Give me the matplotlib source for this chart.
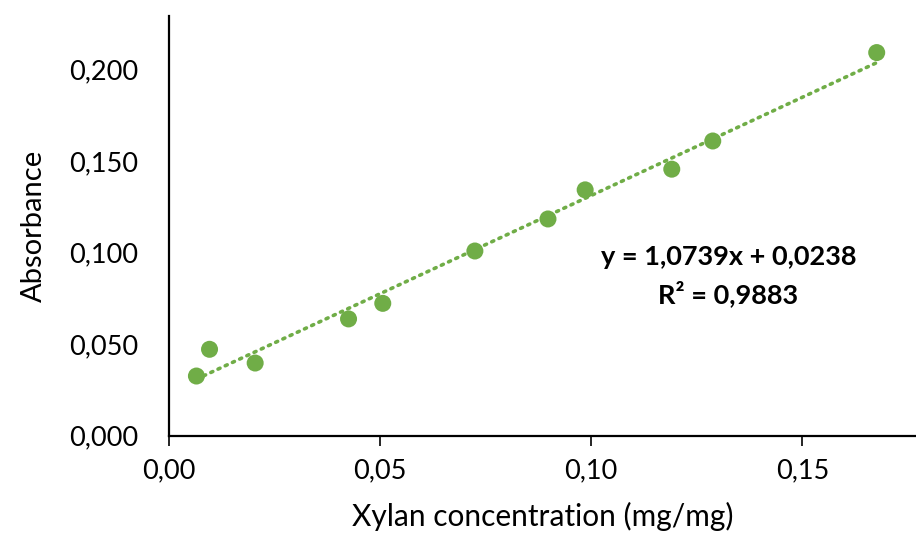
import matplotlib.pyplot as plt
import numpy as np
from matplotlib.ticker import FuncFormatter

# data
xylan = [0.0066, 0.0097, 0.0205, 0.0426, 0.0507, 0.0725, 0.0898, 0.0986, 0.1191, 0.1288, 0.1676]
absorbance = [0.0326, 0.0472, 0.0397, 0.0638, 0.0723, 0.1009, 0.1184, 0.1343, 0.1456, 0.1610, 0.2093]
slope = 1.0739
intercept = 0.0238
equation_text = "y = 1,0739x + 0,0238\nR² = 0,9883"
x_ticks = [0.00, 0.05, 0.10, 0.15]
y_ticks = [0.000, 0.050, 0.100, 0.150, 0.200]

green = '#70AD47'
plt.rcParams['font.family'] = ['Lato', 'DejaVu Sans']

fig = plt.figure(figsize=(9.16, 5.43), dpi=100)
ax = fig.add_axes([0.184, 0.1976, 0.816, 0.773])

# trendline
xs = np.array([min(xylan), max(xylan)])
ax.plot(xs, slope * xs + intercept, color=green, linestyle=(0, (0.6, 1.6)),
        linewidth=2.6, dash_capstyle='round', zorder=2)
ax.scatter(xylan, absorbance, s=150, color=green, edgecolors='none', zorder=3)

ax.set_xlim(0, 0.1769)
ax.set_ylim(0, 0.2293)
ax.set_xticks(x_ticks)
ax.set_yticks(y_ticks)
ax.xaxis.set_major_formatter(FuncFormatter(lambda v, p: f"{v:.2f}".replace('.', ',')))
ax.yaxis.set_major_formatter(FuncFormatter(lambda v, p: f"{v:.3f}".replace('.', ',')))
ax.tick_params(axis='x', length=7, width=1.2, direction='out', labelsize=19.5, pad=9)
ax.tick_params(axis='y', length=0, labelsize=19.5, pad=22)

for side in ['top', 'right']:
    ax.spines[side].set_visible(False)
for side in ['left', 'bottom']:
    ax.spines[side].set_linewidth(1.6)

ax.set_xlabel('Xylan concentration (mg/mg)', fontsize=21.5, labelpad=14)
ax.set_ylabel('Absorbance', fontsize=21, labelpad=16)

ax.text(0.1325, 0.0873, equation_text, ha='center', va='center', fontsize=19.5,
        fontweight='bold', linespacing=1.5)

fig.savefig('out.png', dpi=100)
